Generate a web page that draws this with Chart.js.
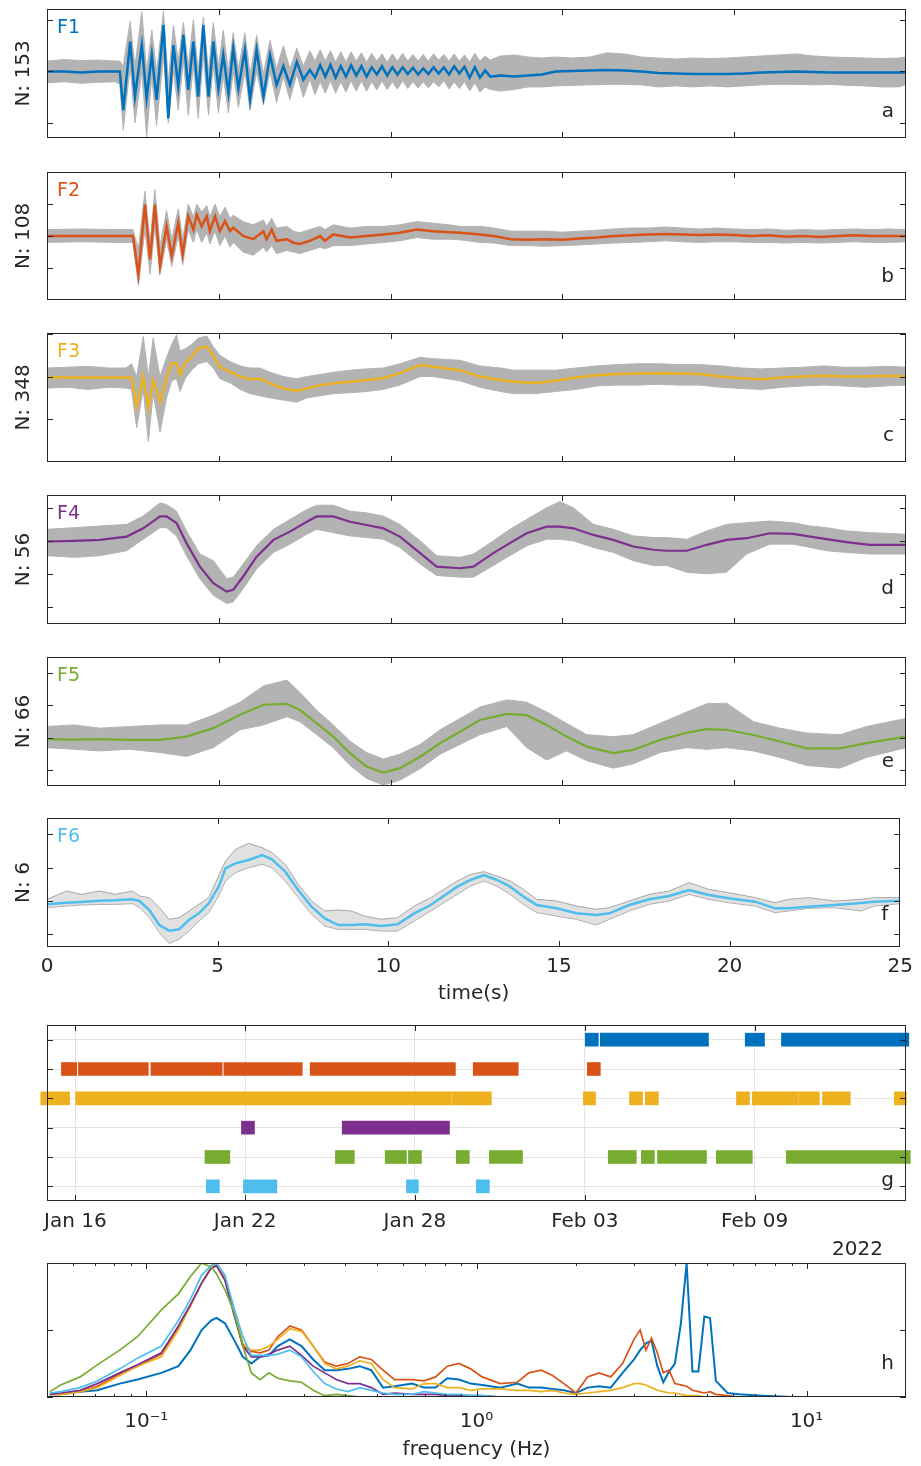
<!DOCTYPE html>
<html>
<head>
<meta charset="utf-8">
<script src="https://cdn.jsdelivr.net/npm/chart.js@4.4.1/dist/chart.umd.min.js"></script>
<style>
  body { margin: 0; background: #fff; }
  #fig { position: relative; width: 921px; height: 1466px; overflow: hidden; }
  #fig canvas { position: absolute; left: 0; }
</style>
</head>
<body>
<div id="fig">
  <canvas id="pa"></canvas>
  <canvas id="pb"></canvas>
  <canvas id="pc"></canvas>
  <canvas id="pd"></canvas>
  <canvas id="pe"></canvas>
  <canvas id="pf"></canvas>
  <canvas id="pg"></canvas>
  <canvas id="ph"></canvas>
</div>
<script>
// ---- waveform stacks (time in s, amplitude normalised) ----
const aTime = [0, 0.5, 1.0, 1.5, 2.0, 2.12,
  2.22, 2.42, 2.56, 2.76, 2.90, 3.05, 3.19, 3.39, 3.53, 3.68, 3.82, 3.97, 4.11, 4.26, 4.40, 4.55, 4.70, 4.84, 4.99, 5.13, 5.28, 5.42, 5.57, 5.76, 5.91, 6.10, 6.30, 6.49, 6.68, 6.88, 7.07, 7.27, 7.46, 7.65,
  7.80, 7.95, 8.10, 8.25, 8.40, 8.55, 8.70, 8.85, 9.00, 9.15, 9.30, 9.45, 9.60, 9.75, 9.90, 10.05, 10.20, 10.35, 10.50, 10.65, 10.80, 10.95, 11.10, 11.25, 11.40, 11.55, 11.70, 11.85, 12.00, 12.15, 12.30, 12.45, 12.60, 12.75, 12.90,
  13.2, 13.6, 14.0, 14.4, 14.8, 15.3, 15.8, 16.3, 16.8, 17.3, 17.8, 18.3, 18.8, 19.3, 19.8, 20.3, 20.8, 21.3, 21.8, 22.3, 22.8, 23.3, 23.8, 24.3, 24.8, 25];
const aMean = [0, 0, -0.02, 0, 0, 0,
  -0.75, 0.58, -0.49, 0.51, -0.52, 0.32, -0.55, 0.90, -0.91, 0.51, -0.29, 0.71, -0.36, 0.58, -0.49, 0.90, -0.49, 0.58, -0.33, 0.32, -0.42, 0.45, -0.33, 0.42, -0.55, 0.42, -0.49, 0.32, -0.26, 0.10, -0.26, 0.19, -0.16, 0.03,
  -0.12, 0.12, -0.10, 0.13, -0.12, 0.10, -0.10, 0.12, -0.08, 0.10, -0.10, 0.08, -0.06, 0.10, -0.08, 0.08, -0.06, 0.08, -0.05, 0.07, -0.06, 0.06, -0.05, 0.08, -0.04, 0.08, -0.06, 0.10, -0.04, 0.09, -0.12, 0.08, -0.12, 0.02, -0.10,
  -0.08, -0.10, -0.08, -0.06, 0.0, 0.01, 0.02, 0.03, 0.02, 0.0, -0.03, -0.04, -0.05, -0.05, -0.05, -0.04, -0.02, -0.01, 0.0, -0.01, -0.02, -0.02, -0.02, -0.02, -0.02, -0.02];
const aHigh = [0.20, 0.23, 0.21, 0.22, 0.20, 0.20,
  0.10, 0.97, 0.10, 1.16, 0.0, 0.80, 0.0, 1.17, -0.2, 0.90, 0.20, 0.95, 0.10, 1.00, 0.0, 1.05, 0.0, 0.95, 0.10, 0.80, 0.0, 0.75, 0.05, 0.75, -0.05, 0.70, -0.05, 0.60, 0.05, 0.50, 0.05, 0.45, 0.10, 0.40,
  0.20, 0.42, 0.20, 0.40, 0.18, 0.38, 0.18, 0.38, 0.20, 0.36, 0.18, 0.35, 0.20, 0.34, 0.18, 0.34, 0.20, 0.35, 0.20, 0.33, 0.20, 0.33, 0.20, 0.34, 0.22, 0.33, 0.20, 0.34, 0.20, 0.32, 0.18, 0.35, 0.20, 0.30, 0.22,
  0.30, 0.32, 0.28, 0.26, 0.28, 0.26, 0.28, 0.36, 0.34, 0.28, 0.26, 0.24, 0.26, 0.25, 0.26, 0.28, 0.30, 0.32, 0.34, 0.30, 0.28, 0.27, 0.26, 0.25, 0.26, 0.28];
const aLow = [-0.22, -0.20, -0.23, -0.21, -0.20, -0.25,
  -1.14, 0.10, -1.00, 0.0, -1.27, -0.10, -1.05, 0.30, -1.00, 0.0, -0.75, 0.20, -0.85, 0.10, -0.90, 0.30, -0.85, 0.10, -0.80, -0.10, -0.80, 0.0, -0.70, 0.0, -0.75, 0.0, -0.65, 0.0, -0.60, -0.10, -0.55, -0.05, -0.50, -0.15,
  -0.45, -0.20, -0.42, -0.18, -0.42, -0.20, -0.40, -0.18, -0.38, -0.18, -0.38, -0.20, -0.36, -0.18, -0.35, -0.20, -0.34, -0.18, -0.33, -0.20, -0.32, -0.20, -0.32, -0.20, -0.30, -0.18, -0.34, -0.20, -0.33, -0.20, -0.38, -0.22, -0.40, -0.30, -0.35,
  -0.38, -0.35, -0.30, -0.30, -0.28, -0.27, -0.26, -0.25, -0.25, -0.26, -0.30, -0.28, -0.30, -0.28, -0.30, -0.28, -0.26, -0.25, -0.25, -0.26, -0.25, -0.27, -0.28, -0.30, -0.30, -0.25];

const bTime = [0, 1, 2, 2.5,
  2.66, 2.85, 3.00, 3.14, 3.29, 3.48, 3.63, 3.82, 3.95, 4.11, 4.26, 4.36, 4.50, 4.65, 4.74, 4.89, 5.03, 5.18, 5.33, 5.42,
  5.71, 6.00, 6.30, 6.39, 6.54, 6.68, 6.98, 7.17, 7.36, 7.65, 7.95, 8.09, 8.33, 8.82, 9.30, 9.79, 10.27, 10.76, 11.24, 11.7, 12.02,
  12.6, 13.0,
  13.5, 14.0, 14.5, 15.0, 15.5, 16.0, 16.5, 17.0, 17.5, 18.0, 18.5, 19.0, 19.5, 20.0, 20.5, 21.0, 21.5, 22.0, 22.5, 23.0, 23.5, 24.0, 24.5, 25.0];
const bMean = [0, 0, 0, 0,
  -1.2, 0.98, -0.73, 0.98, -0.94, 0.31, -0.63, 0.41, -0.58, 0.62, 0.2, 0.67, 0.3, 0.62, 0.15, 0.62, 0.15, 0.46, 0.15, 0.26,
  0.0, -0.1, 0.15, -0.1, 0.2, -0.15, -0.1, -0.21, -0.25, -0.15, 0.0, -0.15, 0.05, -0.05, 0.0, 0.05, 0.1, 0.2, 0.15, 0.12, 0.1,
  0.05, 0.0,
  -0.1, -0.12, -0.1, -0.12, -0.08, -0.05, 0.0, 0.02, 0.05, 0.06, 0.05, 0.03, 0.05, 0.03, 0.0, 0.02, -0.02, 0.0, -0.03, 0.0, 0.02, 0.0, 0.0, 0.0];
const bHigh = [0.2, 0.22, 0.2, 0.2,
  -0.4, 1.4, -0.2, 1.45, -0.3, 0.8, -0.1, 0.85, -0.1, 1.0, 0.6, 1.0, 0.75, 0.95, 0.6, 1.0, 0.6, 0.9, 0.55, 0.65,
  0.45, 0.35, 0.5, 0.3, 0.55, 0.25, 0.3, 0.15, 0.1, 0.2, 0.3, 0.2, 0.35, 0.25, 0.3, 0.3, 0.35, 0.45, 0.4, 0.35, 0.3,
  0.3, 0.25,
  0.15, 0.15, 0.15, 0.12, 0.15, 0.18, 0.22, 0.25, 0.25, 0.28, 0.25, 0.22, 0.25, 0.22, 0.2, 0.22, 0.18, 0.2, 0.18, 0.2, 0.22, 0.2, 0.22, 0.2];
const bLow = [-0.2, -0.18, -0.2, -0.2,
  -1.55, 0.2, -1.2, 0.3, -1.2, -0.1, -0.95, 0.0, -0.9, 0.2, -0.2, 0.2, -0.2, 0.1, -0.25, 0.15, -0.3, 0.0, -0.35, -0.2,
  -0.5, -0.6, -0.35, -0.5, -0.3, -0.55, -0.45, -0.5, -0.55, -0.45, -0.35, -0.4, -0.3, -0.3, -0.25, -0.2, -0.15, -0.05, -0.1, -0.1, -0.12,
  -0.2, -0.22,
  -0.3, -0.3, -0.32, -0.3, -0.28, -0.25, -0.22, -0.2, -0.18, -0.15, -0.18, -0.2, -0.18, -0.18, -0.2, -0.2, -0.22, -0.2, -0.22, -0.2, -0.18, -0.2, -0.2, -0.18];

const cTime = [0, 0.6, 1.2, 1.8, 2.3, 2.46,
  2.61, 2.80, 2.95, 3.09, 3.29, 3.48, 3.63, 3.77, 3.87, 4.02, 4.21, 4.40, 4.65, 4.84,
  5.03, 5.33, 5.62, 5.91, 6.20, 6.49, 6.88, 7.27, 7.56, 7.95, 8.33, 8.82, 9.30, 9.79, 10.27, 10.86, 11.24, 12.02,
  12.6, 13.2, 13.6,
  14.2, 14.8, 15.4, 16.0, 16.6, 17.2, 17.8, 18.4, 19.0, 19.6, 20.2, 20.8, 21.4, 22.0, 22.6, 23.2, 23.8, 24.4, 25.0];
const cMean = [-0.02, -0.02, -0.02, -0.02, -0.02, -0.02,
  -0.71, 0.0, -0.75, -0.08, -0.59, -0.04, 0.31, 0.31, 0.04, 0.31, 0.47, 0.66, 0.70, 0.47,
  0.23, 0.11, 0.0, -0.06, -0.05, -0.16, -0.28, -0.33, -0.28, -0.2, -0.16, -0.12, -0.08, -0.04, 0.08, 0.27, 0.23, 0.15,
  0.0, -0.08, -0.12,
  -0.15, -0.1, -0.02, 0.03, 0.06, 0.07, 0.08, 0.07, 0.06, 0.0, -0.04, -0.06, -0.02, 0.0, 0.02, 0.0, 0.0, 0.02, 0.0];
const cHigh = [0.2, 0.22, 0.24, 0.2, 0.2, 0.3,
  0.0, 0.94, 0.0, 0.9, 0.0, 0.45, 0.75, 0.98, 0.6, 0.65, 0.75, 0.9, 0.95, 0.7,
  0.5, 0.35, 0.25, 0.2, 0.2, 0.1, 0.0, -0.05, 0.0, 0.05, 0.1, 0.15, 0.18, 0.2, 0.3, 0.45, 0.42, 0.38,
  0.25, 0.2, 0.15,
  0.15, 0.15, 0.2, 0.25, 0.28, 0.3, 0.3, 0.28, 0.28, 0.25, 0.2, 0.18, 0.2, 0.22, 0.25, 0.22, 0.22, 0.24, 0.22];
const cLow = [-0.27, -0.25, -0.3, -0.25, -0.27, -0.3,
  -1.2, -0.3, -1.53, -0.4, -1.3, -0.5, -0.1, -0.05, -0.35, -0.05, 0.15, 0.3, 0.35, 0.2,
  -0.05, -0.15, -0.3, -0.4, -0.45, -0.5, -0.55, -0.6, -0.5, -0.45, -0.4, -0.38, -0.35, -0.3, -0.2, 0.0, 0.0, -0.1,
  -0.25, -0.35, -0.4,
  -0.4, -0.35, -0.3, -0.22, -0.2, -0.2, -0.18, -0.2, -0.2, -0.25, -0.28, -0.3, -0.25, -0.22, -0.2, -0.22, -0.25, -0.22, -0.2];

const dTime = [0, 0.8, 1.54, 2.32, 2.80, 3.29, 3.48, 3.77, 4.06, 4.45, 4.84, 5.23, 5.42, 5.71, 6.10, 6.59, 7.07, 7.56, 7.85, 8.33,
  8.82, 9.30, 9.79, 10.27, 10.86, 11.34, 12.02, 12.41, 12.99, 13.47, 13.96, 14.54, 14.93, 15.32, 15.90, 16.48, 17.06, 17.65, 18.03, 18.62,
  19.20, 19.78, 20.36, 21.04, 21.72, 22.21, 22.69, 23.27, 23.95, 25.0];
const dMean = [-0.02, 0.0, 0.03, 0.13, 0.38, 0.74, 0.74, 0.54, -0.07, -0.78, -1.28, -1.54, -1.48, -1.08, -0.48, 0.03, 0.28, 0.58, 0.74, 0.74,
  0.58, 0.48, 0.38, 0.13, -0.37, -0.78, -0.83, -0.78, -0.37, -0.07, 0.23, 0.43, 0.43, 0.38, 0.18, 0.03, -0.17, -0.27, -0.30, -0.30,
  -0.12, 0.03, 0.08, 0.23, 0.21, 0.13, 0.05, -0.04, -0.12, -0.12];
const dHigh = [0.35, 0.4, 0.45, 0.5, 0.75, 1.15, 1.1, 0.9, 0.3, -0.4, -0.6, -1.15, -1.1, -0.7, -0.15, 0.35, 0.65, 0.95, 1.08, 1.08,
  0.9, 0.85, 0.75, 0.5, 0.0, -0.45, -0.5, -0.4, 0.0, 0.35, 0.65, 1.0, 1.19, 1.0, 0.5, 0.35, 0.15, 0.1, 0.1, 0.05,
  0.3, 0.5, 0.55, 0.6, 0.55, 0.45, 0.4, 0.3, 0.25, 0.2];
const dLow = [-0.45, -0.5, -0.45, -0.3, 0.05, 0.4, 0.4, 0.15, -0.45, -1.15, -1.65, -1.9, -1.85, -1.45, -0.85, -0.35, -0.1, 0.2, 0.35, 0.25,
  0.15, 0.1, 0.05, -0.2, -0.7, -1.05, -1.1, -1.1, -0.75, -0.45, -0.15, 0.05, 0.05, 0.0, -0.2, -0.35, -0.6, -0.75, -0.75, -0.95,
  -1.0, -0.95, -0.4, -0.1, -0.1, -0.2, -0.3, -0.35, -0.4, -0.4];

const eTime = [0, 0.8, 1.54, 2.4, 3.29, 4.06, 4.84, 5.62, 6.30, 6.98, 7.36, 7.85, 8.33, 8.82, 9.30, 9.79, 10.27, 10.86, 11.44, 12.02,
  12.60, 13.38, 13.96, 14.54, 15.12, 15.71, 16.48, 17.06, 17.84, 18.62, 19.20, 19.78, 20.56, 21.33, 22.11, 23.08, 23.85, 25.0];
const eMean = [-0.04, -0.05, -0.04, -0.06, -0.06, 0.04, 0.3, 0.71, 1.02, 1.05, 0.86, 0.45, 0.04, -0.47, -0.88, -1.07, -0.93, -0.58, -0.16, 0.19,
  0.55, 0.74, 0.70, 0.40, 0.04, -0.27, -0.47, -0.37, -0.06, 0.16, 0.27, 0.25, 0.09, -0.11, -0.32, -0.32, -0.16, 0.04];
const eHigh = [0.35, 0.4, 0.3, 0.35, 0.4, 0.4, 0.7, 1.1, 1.6, 1.78, 1.4, 0.85, 0.4, -0.1, -0.45, -0.65, -0.5, -0.2, 0.25, 0.6,
  0.95, 1.17, 1.1, 0.8, 0.45, 0.1, 0.04, 0.1, 0.45, 0.8, 1.05, 1.07, 0.5, 0.3, 0.15, 0.1, 0.35, 0.6];
const eLow = [-0.3, -0.35, -0.4, -0.35, -0.45, -0.57, -0.3, 0.25, 0.4, 0.65, 0.5, 0.1, -0.3, -0.85, -1.25, -1.45, -1.3, -0.95, -0.5, -0.2,
  0.1, 0.35, -0.3, -0.68, -0.4, -0.7, -0.93, -0.8, -0.45, -0.3, -0.35, -0.3, -0.4, -0.6, -0.85, -0.93, -0.6, -0.3];

const fTime = [0, 0.57, 1.0, 1.54, 2.0, 2.51, 2.71, 3.00, 3.29, 3.58, 3.87, 4.16, 4.45, 4.74, 5.03, 5.23, 5.52, 5.91, 6.30, 6.59,
  6.98, 7.36, 7.75, 8.14, 8.53, 8.92, 9.30, 9.79, 10.27, 10.76, 11.24, 12.02, 12.41, 12.80, 13.18, 13.57, 13.96, 14.35, 14.93, 15.51,
  16.09, 16.48, 17.06, 17.65, 18.23, 18.81, 19.39, 19.97, 20.75, 21.33, 21.72, 22.30, 23.08, 23.85, 24.24, 25.0];
const fMean = [-0.1, -0.05, -0.03, 0.01, 0.02, 0.05, 0.0, -0.27, -0.72, -0.89, -0.85, -0.57, -0.37, -0.07, 0.43, 0.98, 1.13, 1.23, 1.38, 1.25,
  0.88, 0.33, -0.17, -0.52, -0.72, -0.72, -0.70, -0.75, -0.70, -0.37, -0.12, 0.43, 0.63, 0.78, 0.63, 0.43, 0.13, -0.12, -0.22, -0.37,
  -0.42, -0.37, -0.12, 0.05, 0.15, 0.33, 0.18, 0.08, -0.02, -0.22, -0.22, -0.17, -0.12, -0.06, -0.02, 0.01];
const fHigh = [0.05, 0.3, 0.2, 0.3, 0.2, 0.3, 0.15, 0.1, -0.2, -0.55, -0.5, -0.3, -0.1, 0.1, 0.75, 1.2, 1.55, 1.73, 1.6, 1.45,
  1.1, 0.5, 0.0, -0.3, -0.27, -0.3, -0.45, -0.55, -0.5, -0.15, 0.1, 0.6, 0.8, 0.88, 0.75, 0.6, 0.35, 0.05, 0.0, -0.15,
  -0.25, -0.2, 0.0, 0.2, 0.3, 0.55, 0.35, 0.25, 0.1, -0.05, 0.05, 0.1, 0.0, 0.05, 0.1, 0.1];
const fLow = [-0.2, -0.15, -0.12, -0.1, -0.1, -0.08, -0.2, -0.5, -0.95, -1.27, -1.15, -0.9, -0.6, -0.35, 0.15, 0.6, 0.85, 1.0, 1.1, 1.0,
  0.6, 0.1, -0.4, -0.75, -0.85, -0.85, -0.85, -0.9, -0.9, -0.6, -0.3, 0.2, 0.45, 0.6, 0.45, 0.2, -0.1, -0.35, -0.45, -0.55,
  -0.72, -0.55, -0.3, -0.1, 0.0, 0.2, 0.05, -0.05, -0.15, -0.35, -0.3, -0.22, -0.2, -0.3, -0.15, -0.08];

const familyNames = ['F1', 'F2', 'F3', 'F4', 'F5', 'F6'];
const familyCounts = ['N: 153', 'N: 108', 'N: 348', 'N: 56', 'N: 66', 'N: 6'];
const timeTicks = [5, 10, 15, 20];

// ---- activity periods (day of year 2022, Jan 16 = 16) ----
const gF1 = [[34.02, 34.48], [34.55, 38.37], [39.67, 40.35], [40.95, 45.45]];
const gF2 = [[15.51, 16.05], [16.11, 18.58], [18.67, 21.19], [21.25, 24.02], [24.30, 29.43], [30.06, 31.65], [34.09, 34.55]];
const gF3 = [[14.78, 15.80], [16.01, 29.29], [29.32, 30.70], [33.95, 34.38], [35.58, 36.04], [36.14, 36.60], [39.36, 39.82], [39.92, 41.55], [41.58, 42.29], [42.40, 43.38], [44.94, 45.36]];
const gF4 = [[21.87, 22.33], [25.43, 29.22]];
const gF5 = [[20.58, 21.46], [25.19, 25.86], [26.95, 27.70], [27.77, 28.23], [29.46, 29.92], [30.63, 31.80], [34.83, 35.82], [36.00, 36.46], [36.57, 38.30], [38.65, 39.92], [41.12, 45.5]];
const gF6 = [[20.63, 21.09], [21.94, 23.12], [27.70, 28.12], [30.17, 30.63]];
const dateTickDays = [16, 22, 28, 34, 40];
const dateTickLabels = ['Jan 16', 'Jan 22', 'Jan 28', 'Feb 03', 'Feb 09'];

// ---- normalised spectra ----
const hFreq = [0.051, 0.055, 0.063, 0.071, 0.083, 0.094, 0.111, 0.125, 0.136, 0.147,
  0.157, 0.163, 0.173, 0.184, 0.196, 0.208, 0.221, 0.235, 0.25, 0.272,
  0.295, 0.32, 0.347, 0.376, 0.408, 0.443, 0.48, 0.521, 0.565, 0.639,
  0.693, 0.752, 0.816, 0.885, 0.96, 1.04, 1.18, 1.33, 1.44, 1.57,
  1.70, 1.84, 2.00, 2.17, 2.35, 2.55, 2.77, 3.00, 3.13, 3.26,
  3.39, 3.53, 3.68, 3.83, 3.99, 4.16, 4.33, 4.51, 4.70, 4.90,
  5.10, 5.31, 5.76, 6.25, 7.36, 9.02, 11.06, 13.56, 19.6];
const hF1 = [0.02, 0.02, 0.04, 0.05, 0.10, 0.13, 0.18, 0.23, 0.35, 0.50,
  0.57, 0.59, 0.55, 0.43, 0.30, 0.25, 0.30, 0.31, 0.38, 0.43,
  0.38, 0.28, 0.20, 0.20, 0.21, 0.23, 0.20, 0.07, 0.08, 0.10,
  0.07, 0.07, 0.14, 0.13, 0.10, 0.09, 0.07, 0.10, 0.07, 0.07,
  0.06, 0.05, 0.03, 0.07, 0.08, 0.07, 0.18, 0.28, 0.35, 0.40,
  0.42, 0.23, 0.11, 0.19, 0.25, 0.55, 1.0, 0.19, 0.19, 0.60,
  0.59, 0.12, 0.03, 0.02, 0.01, 0.0, 0.0, 0.0, 0.0];
const hF2 = [0.02, 0.02, 0.04, 0.08, 0.17, 0.23, 0.32, 0.52, 0.68, 0.85,
  0.96, 0.98, 0.88, 0.63, 0.38, 0.34, 0.33, 0.35, 0.45, 0.53,
  0.50, 0.38, 0.26, 0.23, 0.25, 0.30, 0.28, 0.20, 0.13, 0.13,
  0.12, 0.15, 0.23, 0.25, 0.21, 0.15, 0.10, 0.11, 0.18, 0.20,
  0.16, 0.10, 0.03, 0.15, 0.18, 0.15, 0.25, 0.43, 0.50, 0.35,
  0.44, 0.33, 0.18, 0.20, 0.10, 0.09, 0.08, 0.05, 0.04, 0.03,
  0.04, 0.02, 0.01, 0.0, 0.0, 0.0, 0.0, 0.0, 0.0];
const hF3 = [0.02, 0.02, 0.04, 0.07, 0.16, 0.23, 0.30, 0.50, 0.68, 0.85,
  0.97, 1.0, 0.90, 0.65, 0.40, 0.35, 0.35, 0.38, 0.43, 0.51,
  0.49, 0.38, 0.25, 0.21, 0.23, 0.27, 0.25, 0.13, 0.07, 0.06,
  0.10, 0.10, 0.07, 0.07, 0.05, 0.06, 0.06, 0.05, 0.05, 0.04,
  0.05, 0.03, 0.02, 0.03, 0.04, 0.05, 0.07, 0.10, 0.10, 0.09,
  0.07, 0.05, 0.04, 0.03, 0.03, 0.02, 0.01, 0.01, 0.01, 0.0,
  0.0, 0.0, 0.0, 0.0, 0.0, 0.0, 0.0, 0.0, 0.0];
const hF4 = [0.02, 0.03, 0.05, 0.10, 0.18, 0.24, 0.33, 0.53, 0.69, 0.85,
  0.96, 0.98, 0.87, 0.62, 0.38, 0.30, 0.30, 0.32, 0.35, 0.38,
  0.31, 0.23, 0.18, 0.13, 0.10, 0.10, 0.07, 0.02, 0.03, 0.02,
  0.02, 0.02, 0.01, 0.01, 0.01, 0.01, 0.0, 0.0, 0.0, 0.0,
  0.0, 0.0, 0.0, 0.0, 0.0, 0.0, 0.0, 0.0, 0.0, 0.0,
  0.0, 0.0, 0.0, 0.0, 0.0, 0.0, 0.0, 0.0, 0.0, 0.0,
  0.0, 0.0, 0.0, 0.0, 0.0, 0.0, 0.0, 0.0, 0.0];
const hF5 = [0.04, 0.09, 0.15, 0.24, 0.35, 0.45, 0.65, 0.77, 0.90, 1.0,
  0.97, 0.92, 0.80, 0.64, 0.38, 0.18, 0.13, 0.18, 0.14, 0.12,
  0.11, 0.05, 0.01, 0.02, 0.01, 0.0, 0.0, 0.0, 0.0, 0.0,
  0.0, 0.0, 0.0, 0.0, 0.0, 0.0, 0.0, 0.0, 0.0, 0.0,
  0.0, 0.0, 0.0, 0.0, 0.0, 0.0, 0.0, 0.0, 0.0, 0.0,
  0.0, 0.0, 0.0, 0.0, 0.0, 0.0, 0.0, 0.0, 0.0, 0.0,
  0.0, 0.0, 0.0, 0.0, 0.0, 0.0, 0.0, 0.0, 0.0];
const hF6 = [0.03, 0.04, 0.07, 0.12, 0.21, 0.29, 0.38, 0.57, 0.73, 0.91,
  0.98, 1.0, 0.91, 0.67, 0.45, 0.31, 0.31, 0.31, 0.32, 0.35,
  0.30, 0.19, 0.10, 0.06, 0.04, 0.07, 0.05, 0.03, 0.02, 0.02,
  0.04, 0.03, 0.02, 0.02, 0.01, 0.01, 0.0, 0.0, 0.0, 0.0,
  0.0, 0.0, 0.0, 0.0, 0.0, 0.0, 0.0, 0.0, 0.0, 0.0,
  0.0, 0.0, 0.0, 0.0, 0.0, 0.0, 0.0, 0.0, 0.0, 0.0,
  0.0, 0.0, 0.0, 0.0, 0.0, 0.0, 0.0, 0.0, 0.0];
const freqTicks = [0.1, 1, 10];
const freqTickLabels = ['10\u207B\u00B9', '10\u2070', '10\u00B9'];
const freqMinorTicks = [0.06, 0.07, 0.08, 0.09, 0.2, 0.3, 0.4, 0.5, 0.6, 0.7, 0.8, 0.9, 2, 3, 4, 5, 6, 7, 8, 9];

// ---- styling ----
const famColors = ['#0072BD', '#D95319', '#EDB120', '#7E2F8E', '#77AC30', '#4DBEEE'];
const ink = '#262626';
Chart.defaults.font.family = "'DejaVu Sans', sans-serif";
Chart.defaults.font.size = 20;
Chart.defaults.color = ink;

const pts = (xs, ys) => xs.map((x, i) => ({ x: x, y: ys[i] }));

// frame, inward ticks and in-axes labels, MATLAB style
const decor = {
  id: 'decor',
  afterDraw(chart, args, o) {
    const { ctx, chartArea: a } = chart;
    const xs = chart.scales.x;
    const ys = chart.scales.y;
    ctx.save();
    ctx.strokeStyle = ink;
    ctx.lineWidth = 1;
    ctx.beginPath();
    (o.xTicks || []).forEach((v) => {
      const p = Math.round(xs.getPixelForValue(v)) + 0.5;
      ctx.moveTo(p, a.top); ctx.lineTo(p, a.top + 6);
      ctx.moveTo(p, a.bottom); ctx.lineTo(p, a.bottom - 6);
    });
    (o.xMinor || []).forEach((v) => {
      const p = Math.round(xs.getPixelForValue(v)) + 0.5;
      ctx.moveTo(p, a.top); ctx.lineTo(p, a.top + 3);
      ctx.moveTo(p, a.bottom); ctx.lineTo(p, a.bottom - 3);
    });
    (o.yTicks || []).forEach((v) => {
      const p = Math.round(ys.getPixelForValue(v)) + 0.5;
      ctx.moveTo(a.left, p); ctx.lineTo(a.left + 6, p);
      ctx.moveTo(a.right, p); ctx.lineTo(a.right - 6, p);
    });
    ctx.stroke();
    ctx.strokeRect(Math.round(a.left) + 0.5, Math.round(a.top) + 0.5, Math.round(a.width) - 1, Math.round(a.height) - 1);
    ctx.textBaseline = 'middle';
    if (o.fam) {
      ctx.font = "19px 'DejaVu Sans'";
      ctx.fillStyle = o.famColor;
      ctx.textAlign = 'left';
      ctx.fillText(o.fam, a.left + 10, a.top + 19);
    }
    ctx.font = "20px 'DejaVu Sans'";
    ctx.fillStyle = ink;
    ctx.textAlign = 'right';
    ctx.fillText(o.letter, a.right - 12, a.bottom - o.letterDy);
    if (o.year) ctx.fillText(o.year, a.right - 23, a.bottom + 49);
    ctx.restore();
  }
};

function placeCanvas(id, top, height) {
  const cv = document.getElementById(id);
  cv.width = 921;
  cv.height = height;
  cv.style.top = top + 'px';
  return cv;
}

const hiddenY = (extra) => Object.assign({
  display: true,
  ticks: { display: false },
  grid: { display: false, drawTicks: false },
  border: { display: false },
  afterFit: (s) => { s.width = 47; }
}, extra);

const wavePanels = [
  { id: 'pa', top: 9, bottom: 138, t: aTime, m: aMean, hi: aHigh, lo: aLow, ymin: -1.29, ymax: 1.21, yticks: [-1, 0, 1], lw: 2.5, letter: 'a', letterDy: 26 },
  { id: 'pb', top: 172, bottom: 300, t: bTime, m: bMean, hi: bHigh, lo: bLow, ymin: -2, ymax: 2, yticks: [-1, 0, 1], lw: 2.5, letter: 'b', letterDy: 23 },
  { id: 'pc', top: 333, bottom: 462, t: cTime, m: cMean, hi: cHigh, lo: cLow, ymin: -2, ymax: 1.02, yticks: [-1, 0, 1], lw: 2.5, letter: 'c', letterDy: 26 },
  { id: 'pd', top: 495, bottom: 624, t: dTime, m: dMean, hi: dHigh, lo: dLow, ymin: -2.52, ymax: 1.39, yticks: [-2, -1, 0, 1], lw: 2.2, letter: 'd', letterDy: 35 },
  { id: 'pe', top: 657, bottom: 786, t: eTime, m: eMean, hi: eHigh, lo: eLow, ymin: -1.48, ymax: 2.49, yticks: [-1, 0, 1, 2], lw: 2.2, letter: 'e', letterDy: 24 },
  { id: 'pf', top: 818, bottom: 947, t: fTime, m: fMean, hi: fHigh, lo: fLow, ymin: -1.38, ymax: 2.49, yticks: [-1, 0, 1, 2], lw: 2.5, letter: 'f', letterDy: 32 }
];

wavePanels.forEach((p, i) => {
  const last = i === wavePanels.length - 1;
  const axisH = last ? 63 : 8;
  const cv = placeCanvas(p.id, p.top - 8, p.bottom - p.top + 8 + axisH);
  const band = last ? 'rgba(200,200,200,0.55)' : '#b3b3b3';
  const edge = last ? '#a6a6a6' : '#b3b3b3';
  const xScale = {
    type: 'linear', min: 0, max: 25, display: last,
    ticks: { stepSize: 5, padding: 8, maxRotation: 0, autoSkip: false },
    grid: { display: false, drawTicks: false },
    border: { display: false },
    title: { display: true, text: 'time(s)', padding: { top: 0, bottom: 4 } }
  };
  if (last) xScale.afterFit = (s) => { s.height = 63; };
  new Chart(cv, {
    type: 'line',
    data: {
      datasets: [
        { data: pts(p.t, p.m), borderColor: famColors[i], borderWidth: p.lw, pointRadius: 0, fill: false, order: 0 },
        { data: pts(p.t, p.hi), borderColor: edge, borderWidth: 1, pointRadius: 0, fill: '+1', backgroundColor: band, order: 1 },
        { data: pts(p.t, p.lo), borderColor: edge, borderWidth: 1, pointRadius: 0, fill: false, order: 2 }
      ]
    },
    options: {
      responsive: false,
      animation: false,
      devicePixelRatio: 1,
      layout: { padding: { top: 8, bottom: last ? 0 : 8, left: 0, right: 15 } },
      elements: { line: { tension: 0 } },
      plugins: {
        legend: { display: false },
        tooltip: { enabled: false },
        decor: { xTicks: timeTicks, yTicks: p.yticks, fam: familyNames[i], famColor: famColors[i], letter: p.letter, letterDy: p.letterDy }
      },
      scales: {
        x: xScale,
        y: hiddenY({
          min: p.ymin, max: p.ymax,
          title: { display: true, text: familyCounts[i], padding: { top: 12, bottom: 0 } }
        })
      }
    },
    plugins: [decor]
  });
});

// ---- panel g: activity periods ----
const gSegments = [gF1, gF2, gF3, gF4, gF5, gF6];
new Chart(placeCanvas('pg', 1017, 243), {
  type: 'bar',
  data: {
    labels: familyNames,
    datasets: gSegments.map((segs, i) => ({
      data: segs.map((s) => ({ x: s, y: familyNames[i] })),
      backgroundColor: famColors[i],
      borderWidth: 0,
      barThickness: 13,
      barPercentage: 1,
      categoryPercentage: 1,
      grouped: false,
      clip: false
    }))
  },
  options: {
    indexAxis: 'y',
    responsive: false,
    animation: false,
    devicePixelRatio: 1,
    layout: { padding: { top: 8, bottom: 0, left: 0, right: 15 } },
    plugins: {
      legend: { display: false },
      tooltip: { enabled: false },
      decor: { xTicks: dateTickDays, yTicks: familyNames.map((n, i) => i), letter: 'g', letterDy: 20, year: '2022' }
    },
    scales: {
      x: {
        type: 'linear', min: 15, max: 45.35,
        afterBuildTicks: (s) => { s.ticks = dateTickDays.map((v) => ({ value: v })); },
        ticks: { callback: (v, i) => dateTickLabels[i], padding: 9, maxRotation: 0, autoSkip: false },
        grid: { color: '#e3e3e3', drawTicks: false },
        border: { display: false },
        afterFit: (s) => { s.height = 59; }
      },
      y: {
        type: 'category',
        offset: true,
        ticks: { display: false },
        grid: { color: '#e3e3e3', drawTicks: false, offset: false },
        border: { display: false },
        afterFit: (s) => { s.width = 47; }
      }
    }
  },
  plugins: [decor]
});

// ---- panel h: spectra ----
const spectra = [hF1, hF2, hF3, hF4, hF5, hF6];
new Chart(placeCanvas('ph', 1255, 211), {
  type: 'line',
  data: {
    datasets: spectra.map((vals, i) => ({
      data: pts(hFreq, vals),
      borderColor: famColors[i],
      borderWidth: i === 0 ? 2 : 1.7,
      pointRadius: 0,
      fill: false,
      order: spectra.length - i
    }))
  },
  options: {
    responsive: false,
    animation: false,
    devicePixelRatio: 1,
    layout: { padding: { top: 8, bottom: 0, left: 0, right: 15 } },
    elements: { line: { tension: 0 } },
    plugins: {
      legend: { display: false },
      tooltip: { enabled: false },
      decor: { xTicks: freqTicks, xMinor: freqMinorTicks, yTicks: [0, 0.5, 1], letter: 'h', letterDy: 33 }
    },
    scales: {
      x: {
        type: 'logarithmic', min: 0.05, max: 20,
        afterBuildTicks: (s) => { s.ticks = freqTicks.map((v) => ({ value: v })); },
        ticks: { callback: (v, i) => freqTickLabels[i], padding: 13, maxRotation: 0, autoSkip: false },
        grid: { display: false, drawTicks: false },
        border: { display: false },
        title: { display: true, text: 'frequency (Hz)', padding: { top: 0, bottom: 4 } },
        afterFit: (s) => { s.height = 69; }
      },
      y: hiddenY({ min: 0, max: 1 })
    }
  },
  plugins: [decor]
});
</script>
</body>
</html>
